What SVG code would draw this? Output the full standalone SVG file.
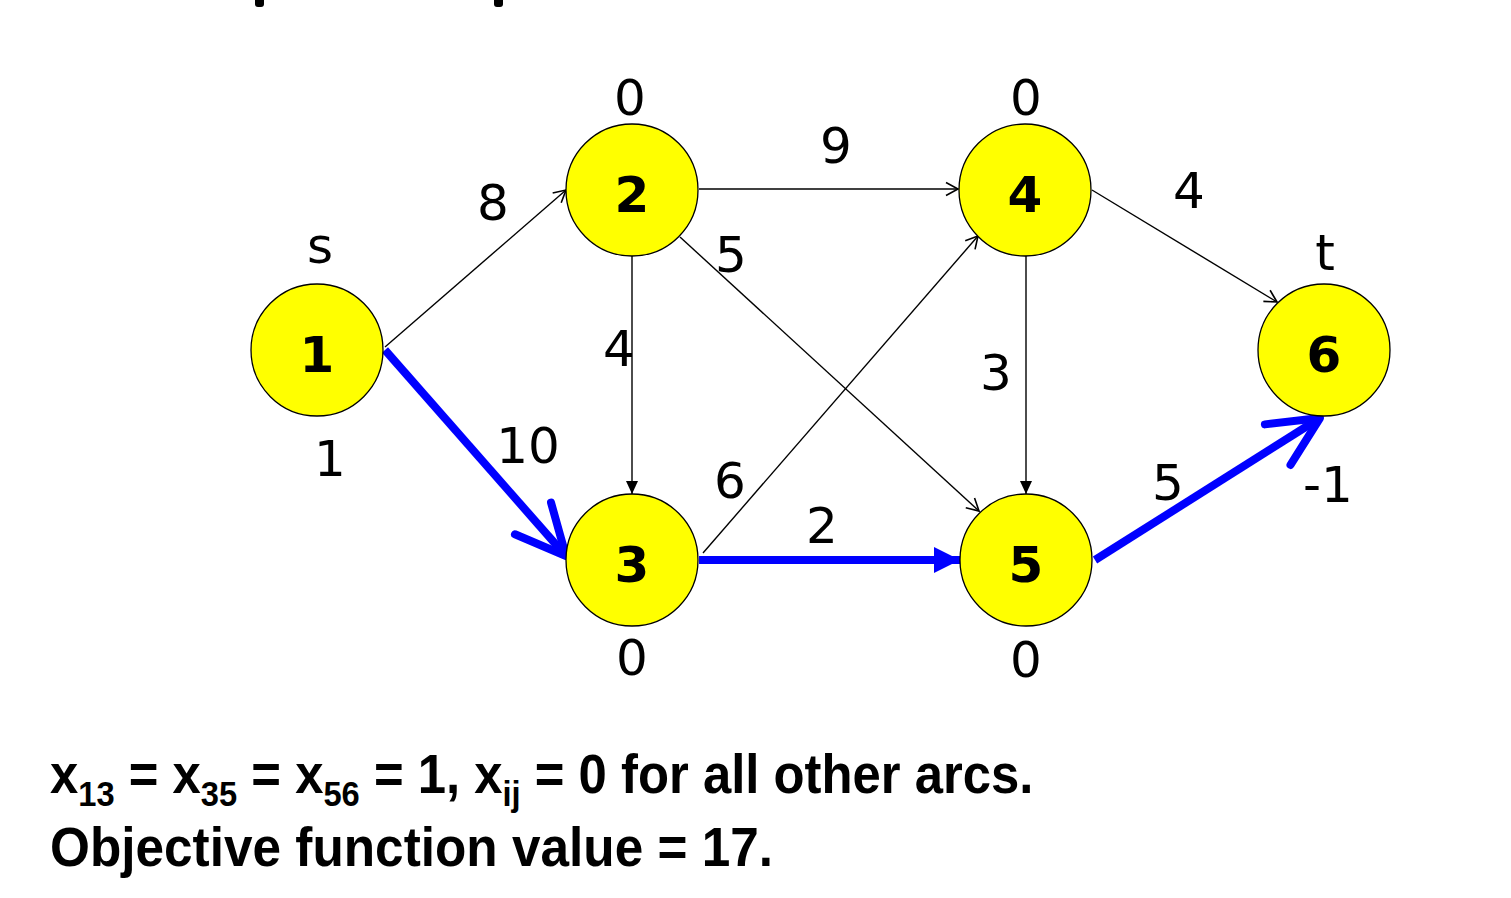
<svg xmlns="http://www.w3.org/2000/svg" width="1511" height="898" viewBox="0 0 1511 898">
<style>
.node{fill:#ffff00;stroke:#000;stroke-width:1.3}
.num{font-family:"DejaVu Sans",sans-serif;font-weight:bold;font-size:50px;text-anchor:middle;fill:#000}
.lbl{font-family:"DejaVu Sans",sans-serif;font-size:50px;text-anchor:middle;fill:#000}
.thin{stroke:#000;stroke-width:1.4;fill:none}
.blue{stroke:#0000ff;stroke-width:8;fill:none}
.foot{font-family:"Liberation Sans",Arial,sans-serif;font-weight:bold;font-size:56px;fill:#000}
.sub{font-size:36px}
</style>
<defs>
<marker id="openA" markerUnits="userSpaceOnUse" markerWidth="20" markerHeight="20" refX="15" refY="8" orient="auto" overflow="visible">
<path d="M3,1.5 L15,8 L3,14.5" fill="none" stroke="#000" stroke-width="1.6"/>
</marker>
<marker id="fillA" markerUnits="userSpaceOnUse" markerWidth="16" markerHeight="14" refX="13" refY="6" orient="auto" overflow="visible">
<path d="M0,0 L13,6 L0,12 Z" fill="#000"/>
</marker>
<marker id="blueV" markerUnits="userSpaceOnUse" markerWidth="80" markerHeight="80" refX="0" refY="0" orient="auto" overflow="visible">
<path d="M-50,-24 L0,0 L-50,24" fill="none" stroke="#0000ff" stroke-width="8" stroke-linecap="round" stroke-linejoin="round"/>
</marker>
<marker id="blueT" markerUnits="userSpaceOnUse" markerWidth="40" markerHeight="40" refX="0" refY="0" orient="auto" overflow="visible">
<path d="M-26,-13 L0,0 L-26,13 Z" fill="#0000ff"/>
</marker>
</defs>
<rect width="1511" height="898" fill="#fff"/>
<rect x="255" y="-4" width="9" height="11" rx="3" fill="#000"/>
<rect x="494" y="-4" width="9" height="11" rx="3" fill="#000"/>
<g id="connectors">
<line class="thin" x1="385" y1="347" x2="566" y2="190" marker-end="url(#openA)"/>
<line class="thin" x1="699" y1="189" x2="958" y2="189" marker-end="url(#openA)"/>
<line class="thin" x1="680" y1="237" x2="979" y2="511" marker-end="url(#openA)"/>
<line class="thin" x1="632" y1="256" x2="632" y2="494" marker-end="url(#fillA)"/>
<line class="thin" x1="703" y1="553" x2="978" y2="236" marker-end="url(#openA)"/>
<line class="thin" x1="1026" y1="256" x2="1026" y2="494" marker-end="url(#fillA)"/>
<line class="thin" x1="1092" y1="190" x2="1277" y2="302" marker-end="url(#openA)"/>
<line class="blue" x1="385" y1="350" x2="566" y2="556" marker-end="url(#blueV)"/>
<line class="blue" x1="699" y1="560" x2="940" y2="560"/>
<line class="blue" x1="939" y1="560" x2="960" y2="560" stroke-width="1" marker-end="url(#blueT)"/>
<line class="blue" x1="1095" y1="560" x2="1320" y2="418" marker-end="url(#blueV)"/>
</g>
<g id="node1"><circle class="node" cx="317" cy="350" r="66"/><text class="num" x="317" y="372">1</text></g>
<g id="node2"><circle class="node" cx="632" cy="190" r="66"/><text class="num" x="632" y="212">2</text></g>
<g id="node3"><circle class="node" cx="632" cy="560" r="66"/><text class="num" x="632" y="582">3</text></g>
<g id="node4"><circle class="node" cx="1025" cy="190" r="66"/><text class="num" x="1025" y="212">4</text></g>
<g id="node5"><circle class="node" cx="1026" cy="560" r="66"/><text class="num" x="1026" y="582">5</text></g>
<g id="node6"><circle class="node" cx="1324" cy="350" r="66"/><text class="num" x="1324" y="372">6</text></g>
<g id="labels">
<text class="lbl" x="630" y="115">0</text>
<text class="lbl" x="1026" y="115">0</text>
<text class="lbl" x="320" y="263">s</text>
<text class="lbl" x="330" y="476">1</text>
<text class="lbl" x="1325" y="270">t</text>
<text class="lbl" x="1328" y="502">-1</text>
<text class="lbl" x="632" y="675">0</text>
<text class="lbl" x="1026" y="677">0</text>
<text class="lbl" x="493" y="220">8</text>
<text class="lbl" x="836" y="163">9</text>
<text class="lbl" x="731" y="272">5</text>
<text class="lbl" x="1189" y="208">4</text>
<text class="lbl" x="619" y="366">4</text>
<text class="lbl" x="996" y="390">3</text>
<text class="lbl" x="528" y="463">10</text>
<text class="lbl" x="730" y="498">6</text>
<text class="lbl" x="822" y="543">2</text>
<text class="lbl" x="1168" y="500">5</text>
</g>
<g id="footer">
<g transform="translate(50,0) scale(0.908,1)">
<text class="foot" x="0" y="793">x<tspan class="sub" dy="13">13</tspan><tspan dy="-13"> = x</tspan><tspan class="sub" dy="13">35</tspan><tspan dy="-13"> = x</tspan><tspan class="sub" dy="13">56</tspan><tspan dy="-13"> = 1, x</tspan><tspan class="sub" dy="13">ij</tspan><tspan dy="-13"> = 0 for all other arcs.</tspan></text>
</g>
<text class="foot" x="50" y="866" textLength="723" lengthAdjust="spacingAndGlyphs">Objective function value = 17.</text>
</g>
</svg>
